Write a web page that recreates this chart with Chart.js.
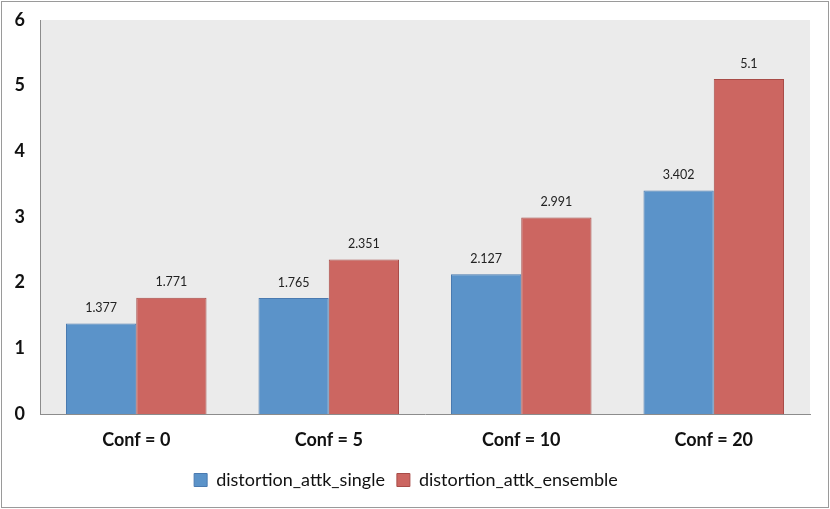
<!DOCTYPE html>
<html>
<head>
<meta charset="utf-8">
<script src="https://cdn.jsdelivr.net/npm/chart.js@4"></script>
<style>
  html, body { margin: 0; padding: 0; background: #fff; }
  #wrap { position: absolute; left: 1px; top: 1px; width: 826px; height: 505px; border: 1px solid #9a9a9a; }
  canvas { display: block; }
</style>
</head>
<body>
<div id="wrap"><canvas id="chart" width="826" height="505"></canvas></div>
<script>
// data
var categories = ['Conf = 0', 'Conf = 5', 'Conf = 10', 'Conf = 20'];
var singleValues = [1.377, 1.765, 2.127, 3.402];
var ensembleValues = [1.771, 2.351, 2.991, 5.1];
var yTicks = [0, 1, 2, 3, 4, 5, 6];

var fontName = 'Lato, "Open Sans", sans-serif';

// gray plot background
var plotBg = {
    id: 'plotBg',
    beforeDraw: function(chart) {
        var a = chart.chartArea, c = chart.ctx;
        c.save();
        c.fillStyle = '#ebebeb';
        c.fillRect(a.left, a.top, a.right - a.left, a.bottom - a.top);
        c.restore();
    }
};

// value labels above bars
var barLabels = {
    id: 'barLabels',
    afterDatasetsDraw: function(chart) {
        var c = chart.ctx;
        c.save();
        c.font = '12.5px ' + fontName;
        c.fillStyle = '#222';
        c.textAlign = 'center';
        c.textBaseline = 'bottom';
        chart.data.datasets.forEach(function(ds, i) {
            chart.getDatasetMeta(i).data.forEach(function(bar, j) {
                c.fillText(String(ds.data[j]), bar.x, bar.y - 9);
            });
        });
        c.restore();
    }
};

var ctx = document.getElementById('chart').getContext('2d');
var chart = new Chart(ctx, {
    type: 'bar',
    data: {
        labels: categories,
        datasets: [{
            label: 'distortion_attk_single',
            data: singleValues,
            backgroundColor: '#5b93c9',
            borderColor: '#4a7ab0',
            borderWidth: 1
        }, {
            label: 'distortion_attk_ensemble',
            data: ensembleValues,
            backgroundColor: '#cc6661',
            borderColor: '#a84c48',
            borderWidth: 1
        }]
    },
    options: {
        responsive: false,
        animation: false,
        layout: { padding: { left: 0, right: 18, top: 18, bottom: 8 } },
        categoryPercentage: 0.73,
        barPercentage: 1.0,
        plugins: {
            legend: {
                display: true,
                position: 'bottom',
                labels: {
                    color: '#111',
                    font: { family: fontName, size: 18 },
                    boxWidth: 13,
                    boxHeight: 13,
                    padding: 12
                }
            },
            tooltip: { enabled: false }
        },
        scales: {
            x: {
                grid: { display: false, drawTicks: false },
                border: { color: '#8c8c8c' },
                ticks: {
                    color: '#111',
                    font: { family: fontName, size: 18, weight: 'bold' },
                    padding: 15
                },
                afterFit: function(scale) { scale.height = 45; }
            },
            y: {
                min: 0,
                max: 6,
                grid: { display: false, drawTicks: false },
                border: { color: '#8c8c8c' },
                afterBuildTicks: function(scale) {
                    scale.ticks = yTicks.map(function(v) { return { value: v }; });
                },
                ticks: {
                    color: '#111',
                    font: { family: fontName, size: 18, weight: 'bold' },
                    padding: 15
                },
                afterFit: function(scale) {
                    scale.width = 38;
                    scale.paddingTop = 0;
                    scale.paddingBottom = 0;
                }
            }
        }
    },
    plugins: [plotBg, barLabels]
});
</script>
</body>
</html>
